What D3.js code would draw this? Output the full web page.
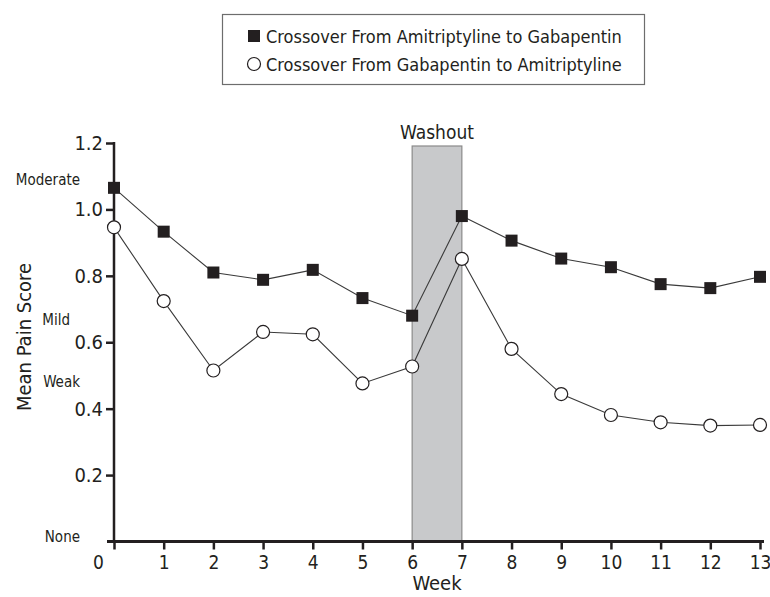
<!DOCTYPE html>
<html>
<head>
<meta charset="utf-8">
<script src="https://cdn.jsdelivr.net/npm/d3@7"></script>
<style>
    body { margin: 0; background: #fff; }
    text { font-family: "Liberation Sans Narrow", "DejaVu Sans Condensed", "Arial Narrow", sans-serif; fill: #231f20; }
</style>
</head>
<body>
<svg id="chart" width="770" height="597"></svg>
<script>
// weeks and mean pain scores
const weeks = [0, 1, 2, 3, 4, 5, 6, 7, 8, 9, 10, 11, 12, 13];
const amiToGaba = [1.065, 0.933, 0.810, 0.788, 0.818, 0.733, 0.680, 0.980, 0.906, 0.852, 0.826, 0.775, 0.763, 0.797];
const gabaToAmi = [0.946, 0.724, 0.515, 0.631, 0.624, 0.476, 0.527, 0.851, 0.580, 0.444, 0.381, 0.359, 0.349, 0.351];
const yTicks = [0.2, 0.4, 0.6, 0.8, 1.0, 1.2];
const severityLabels = ["Moderate", "Mild", "Weak", "None"];
const severityValues = [1.09, 0.667, 0.48, 0.014];
const washout = [6, 7];
const legendNames = ["Crossover From Amitriptyline to Gabapentin", "Crossover From Gabapentin to Amitriptyline"];

const svg = d3.select("#chart");

// plot area
const plotLeft = 114, plotRight = 760, plotTop = 143, plotBottom = 541.5;

let x = d3.scaleLinear()
    .domain([0, 13])
    .range([plotLeft, plotRight]);

let y = d3.scaleLinear()
    .domain([0, 1.2])
    .range([plotBottom, plotTop]);

//washout band
svg.append("rect")
    .attr("x", x(washout[0]))
    .attr("y", plotTop + 3)
    .attr("width", x(washout[1]) - x(washout[0]))
    .attr("height", plotBottom - plotTop - 3)
    .attr("fill", "#c8c9cb")
    .attr("stroke", "#8a8a8a")
    .attr("stroke-width", 1.2);

svg.append("text")
    .attr("x", (x(washout[0]) + x(washout[1])) / 2)
    .attr("y", plotTop - 4)
    .attr("text-anchor", "middle")
    .style("font-size", "19px")
    .text("Washout");

// x axis
let xAxis = svg.append("g")
    .attr("transform", "translate(0," + plotBottom + ")")
    .call(d3.axisBottom(x).tickValues(weeks).tickSize(8).tickPadding(6).tickFormat(d3.format("d")));
xAxis.select(".domain").remove();
xAxis.append("line")
    .attr("x1", plotLeft - 7).attr("x2", plotRight + 4)
    .attr("stroke", "#231f20").attr("stroke-width", 3);
xAxis.selectAll(".tick line").attr("stroke", "#231f20").attr("stroke-width", 2.5);
xAxis.selectAll(".tick text")
    .style("font-size", "19px")
    .attr("fill", "#231f20")
    .attr("dx", function (d) { return d === 0 ? -16 : 0; });

// y axis
let yAxis = svg.append("g")
    .attr("transform", "translate(" + plotLeft + ",0)")
    .call(d3.axisLeft(y).tickValues(yTicks).tickSize(8).tickPadding(3).tickFormat(d3.format(".1f")));
yAxis.select(".domain").remove();
yAxis.append("line")
    .attr("y1", plotTop - 1).attr("y2", plotBottom)
    .attr("stroke", "#231f20").attr("stroke-width", 2.5);
yAxis.selectAll(".tick line").attr("stroke", "#231f20").attr("stroke-width", 2.5);
yAxis.selectAll(".tick text")
    .style("font-size", "20px")
    .attr("fill", "#231f20");

// severity words
svg.selectAll(".sev")
    .data(severityLabels)
    .enter().append("text")
    .attr("class", "sev")
    .attr("x", function (d) { return d === "Mild" ? 70 : 80; })
    .attr("y", function (d, i) { return y(severityValues[i]); })
    .attr("text-anchor", "end")
    .attr("dominant-baseline", "central")
    .style("font-size", "15px")
    .text(function (d) { return d; });

// axis titles
svg.append("text")
    .attr("x", x(6.5))
    .attr("y", 590)
    .attr("text-anchor", "middle")
    .style("font-size", "20px")
    .text("Week");

svg.append("text")
    .attr("transform", "translate(31,337) rotate(-90)")
    .attr("text-anchor", "middle")
    .style("font-size", "20px")
    .text("Mean Pain Score");

// lines
let line = d3.line()
    .x(function (d, i) { return x(weeks[i]); })
    .y(function (d) { return y(d); });

[amiToGaba, gabaToAmi].forEach(function (series) {
    svg.append("path")
        .datum(series)
        .attr("d", line)
        .attr("fill", "none")
        .attr("stroke", "#3a3a3a")
        .attr("stroke-width", 1.1);
});

// markers
const sq = 12;
svg.selectAll(".sq")
    .data(amiToGaba)
    .enter().append("rect")
    .attr("class", "sq")
    .attr("x", function (d, i) { return x(weeks[i]) - sq / 2; })
    .attr("y", function (d) { return y(d) - sq / 2; })
    .attr("width", sq)
    .attr("height", sq)
    .attr("fill", "#231f20");

svg.selectAll(".circ")
    .data(gabaToAmi)
    .enter().append("circle")
    .attr("class", "circ")
    .attr("cx", function (d, i) { return x(weeks[i]); })
    .attr("cy", function (d) { return y(d); })
    .attr("r", 6.5)
    .attr("fill", "#fff")
    .attr("stroke", "#231f20")
    .attr("stroke-width", 1.2);

// legend
let legend = svg.append("g");
legend.append("rect")
    .attr("x", 222.5).attr("y", 14.5)
    .attr("width", 422).attr("height", 70)
    .attr("fill", "#fff")
    .attr("stroke", "#6d6d6d")
    .attr("stroke-width", 1.2);

legend.append("rect")
    .attr("x", 248).attr("y", 30)
    .attr("width", 12).attr("height", 12)
    .attr("fill", "#231f20");
legend.append("circle")
    .attr("cx", 254).attr("cy", 64)
    .attr("r", 6.5)
    .attr("fill", "#fff")
    .attr("stroke", "#231f20")
    .attr("stroke-width", 1.2);

legend.selectAll(".legtext")
    .data(legendNames)
    .enter().append("text")
    .attr("class", "legtext")
    .attr("x", 266)
    .attr("y", function (d, i) { return 36 + i * 28; })
    .attr("dominant-baseline", "central")
    .style("font-size", "18px")
    .text(function (d) { return d; });
</script>
</body>
</html>
